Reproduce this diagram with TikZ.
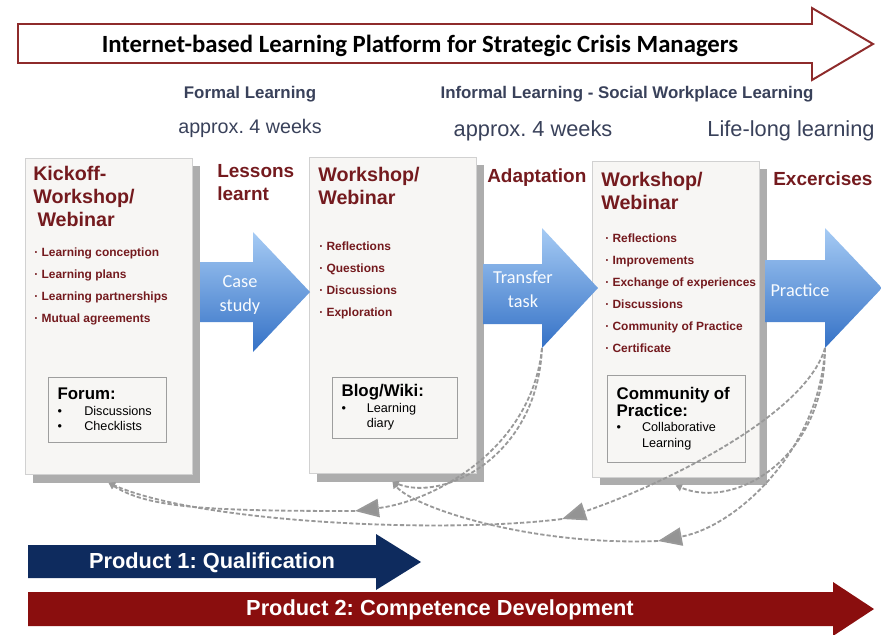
\documentclass[tikz,border=0pt]{standalone}
\usepackage{fontspec}
\setmainfont{Liberation Sans}
\newfontfamily\carlito{Carlito}
\usetikzlibrary{arrows.meta,shadows}
\definecolor{paper}{HTML}{F7F6F4}
\definecolor{boxred}{HTML}{741A1E}
\definecolor{slate}{HTML}{39415A}
\definecolor{skyA}{HTML}{A6CBF4}
\definecolor{skyB}{HTML}{3471C6}
\definecolor{navy}{HTML}{0E2B5E}
\definecolor{maroon}{HTML}{8A0E0E}
\definecolor{frame}{HTML}{8E2B2B}
\frenchspacing
\begin{document}
\begin{tikzpicture}[x=0.025cm, y=-0.025cm,
    card/.style={draw=black!18, fill=paper, minimum width=4.175cm, minimum height=7.9cm,
      drop shadow={shadow xshift=5.7pt, shadow yshift=-5.7pt, fill=black!32, opacity=1}},
    note/.style={draw=black!38, fill=paper, align=left, inner xsep=6.5pt,
      font=\fontsize{9}{11}\selectfont},
    head/.style={anchor=north west, inner sep=0pt, align=left, text=boxred,
      font=\fontsize{14}{16.3}\selectfont\bfseries},
    items/.style={anchor=north west, inner sep=0pt, align=left, text=boxred,
      font=\fontsize{8.5}{15.6}\selectfont\bfseries},
    flow/.style={top color=skyA, bottom color=skyB},
    flowtext/.style={text=white!92!skyA, align=center, font=\carlito\fontsize{13}{17}\selectfont},
    fb/.style={draw=black!40, line width=1.3pt, dash pattern=on 3pt off 1.5pt},
    bigtip/.style={-{Triangle[length=17pt, width=13pt, fill=black!42]}},
    smalltip/.style={-{Triangle[length=4.5pt, width=5pt]}}]
  \useasboundingbox (0,0) rectangle (881,634);

  % platform arrow on top
  \draw[frame, line width=1.4pt, fill=white] (18,24) -- (812,24) -- (812,8) -- (873,44) -- (812,80) -- (812,63) -- (18,63) -- cycle;
  \node[font=\carlito\fontsize{17.6}{20}\selectfont\bfseries] (platform) at (420,46) {Internet-based Learning Platform for Strategic Crisis Managers};

  \node[text=slate, font=\fontsize{12}{14}\selectfont\bfseries] (formal) at (250,94) {Formal Learning};
  \node[text=slate, font=\fontsize{12}{14}\selectfont\bfseries] (informal) at (627,94) {Informal Learning - Social Workplace Learning};
  \node[text=slate, font=\fontsize{14}{16}\selectfont] (weeks1) at (250,128) {approx. 4 weeks};
  \node[text=slate, font=\fontsize{15.5}{18}\selectfont] (weeks2) at (533,131) {approx. 4 weeks};
  \node[text=slate, font=\fontsize{15.5}{18}\selectfont] (lifelong) at (791,131) {Life-long learning};

  % the three workshops
  \node[card] (kickoff) at (108.5,316.5) {};
  \node[card] (midws) at (392.5,315.5) {};
  \node[card] (finalws) at (675.5,319) {};

  \node[head] (kickoff-t) at (33,166) {Kickoff-\\Workshop/\\\hspace*{3pt}Webinar};
  \node[items] (kickoff-l) at (34,248) {· Learning conception\\· Learning plans\\· Learning partnerships\\· Mutual agreements};
  \node[note, text width=71pt, minimum height=1.625cm] (forum) at (107.5,409.5)
    {{\fontsize{12}{13}\selectfont\bfseries Forum:}\\\makebox[19pt][l]{•}Discussions\\\makebox[19pt][l]{•}Checklists};

  \node[head] (midws-t) at (318,167) {Workshop/\\Webinar};
  \node[items] (midws-l) at (319,241.5) {· Reflections\\· Questions\\· Discussions\\· Exploration};
  \node[note, text width=76pt, minimum height=1.525cm] (blog) at (395,407.5)
    {{\fontsize{12}{13}\selectfont\bfseries Blog/Wiki:}\\\makebox[18pt][l]{•}Learning\\\hspace*{18pt}diary};

  \node[head] (finalws-t) at (601,172) {Workshop/\\Webinar};
  \node[items] (finalws-l) at (605,233.5) {· Reflections\\· Improvements\\· Exchange of experiences\\· Discussions\\· Community of Practice\\· Certificate};
  \node[note, text width=85pt, minimum height=2.175cm] (cop) at (676.5,418.5)
    {{\fontsize{12}{13}\selectfont\bfseries Community of}\\{\fontsize{12}{13}\selectfont\bfseries Practice:}\\\makebox[18pt][l]{•}Collaborative\\\hspace*{18pt}Learning};

  % steps between them
  \node[head, font=\fontsize{13.5}{16.3}\selectfont\bfseries] (lessons) at (217,164) {Lessons\\learnt};
  \node[head, font=\fontsize{13.5}{16.3}\selectfont\bfseries] (adapt) at (487,168) {Adaptation};
  \node[head, font=\fontsize{13.5}{16.3}\selectfont\bfseries] (exercise) at (773,171) {Excercises};

  \shade[flow] (200,262) -- (253,262) -- (253,232) -- (310,292) -- (253,352) -- (253,322) -- (200,322) -- cycle;
  \shade[flow] (483,264) -- (542,264) -- (542,228) -- (598,288) -- (542,348) -- (542,324) -- (483,324) -- cycle;
  \shade[flow] (765,260) -- (825,260) -- (825,228) -- (882,288) -- (825,348) -- (825,322) -- (765,322) -- cycle;
  \node[flowtext] (case) at (240,295) {Case\\study};
  \node[flowtext] (transfer) at (523,289) {Transfer\\task};
  \node[flowtext] (practice) at (800,290) {Practice};

  % feedback loops
  \coordinate (tb) at (542,348);
  \coordinate (pb) at (825,348);
  \coordinate (kb) at ([yshift=-5.7pt]kickoff.south);
  \coordinate (mb) at ([yshift=-5.7pt]midws.south);
  \coordinate (fb) at ([yshift=-5.7pt]finalws.south);
  \coordinate (m1) at (355,511);
  \coordinate (m2) at (562,519);
  \coordinate (m3) at (658,541);
  \draw[fb, smalltip] (tb) .. controls +(-5,110) and +(50,20) .. (mb);
  \draw[fb, bigtip] (tb) .. controls +(-10,100) and +(80,-10) .. (m1);
  \draw[fb, smalltip] (m1) .. controls +(-150,0) and +(40,25) .. (kb);
  \draw[fb, smalltip] (pb) .. controls +(0,110) and +(60,25) .. (fb);
  \draw[fb, bigtip] (pb) .. controls +(-20,70) and +(90,-30) .. (m2);
  \draw[fb, smalltip] (m2) .. controls +(-120,15) and +(90,40) .. (kb);
  \draw[fb, bigtip] (pb) .. controls +(-5,100) and +(80,-15) .. (m3);
  \draw[fb, smalltip] (m3) .. controls +(-130,5) and +(20,25) .. (mb);

  % products
  \fill[navy] (28,545) -- (376,545) -- (376,534) -- (421,562) -- (376,590) -- (376,578) -- (28,578) -- cycle;
  \fill[maroon] (28,592) -- (833,592) -- (833,582) -- (874,609) -- (833,636) -- (833,626) -- (28,626) -- cycle;
  \node[text=white, font=\fontsize{15.5}{18}\selectfont\bfseries] (prod1) at (212,563) {Product 1: Qualification};
  \node[text=white, font=\fontsize{15.5}{18}\selectfont\bfseries] (prod2) at (440,610) {Product 2: Competence Development};
\end{tikzpicture}
\end{document}
